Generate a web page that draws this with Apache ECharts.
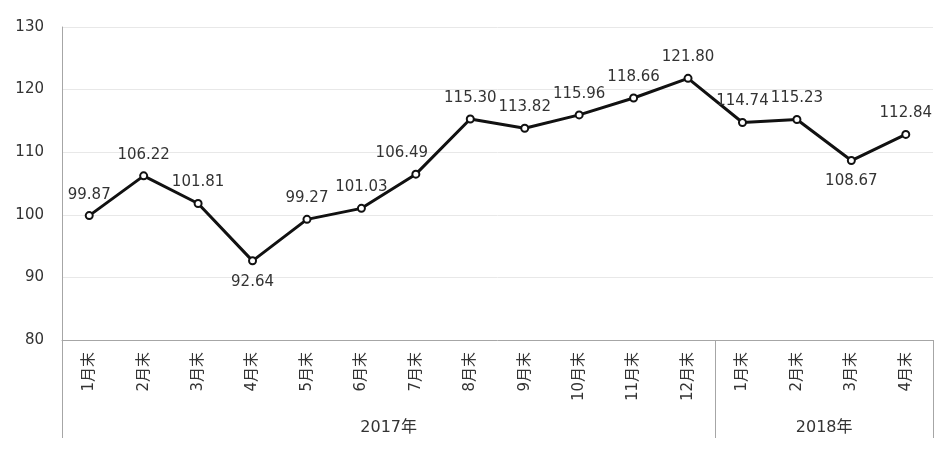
<!DOCTYPE html>
<html>
<head>
<meta charset="utf-8">
<script src="https://cdn.jsdelivr.net/npm/echarts@6/dist/echarts.min.js"></script>
<style>
  html, body { margin: 0; padding: 0; background: #fff; }
  #chart { width: 949px; height: 456px; }
</style>
</head>
<body>
<div id="chart"></div>
<script>
// 月份 / 年份 / 数值
var months = ['1月末', '2月末', '3月末', '4月末', '5月末', '6月末', '7月末', '8月末',
  '9月末', '10月末', '11月末', '12月末', '1月末', '2月末', '3月末', '4月末'];
var years = ['2017年', '2018年'];
var yearBounds = [0, 12, 16];
var yearCenters = [6, 14];
var values = [99.87, 106.22, 101.81, 92.64, 99.27, 101.03, 106.49, 115.30,
  113.82, 115.96, 118.66, 121.80, 114.74, 115.23, 108.67, 112.84];
var belowIdx = [3, 14];

var font = 'DejaVu Sans, Noto Sans CJK SC, sans-serif';
var chart = echarts.init(document.getElementById('chart'));

var seriesData = values.map(function (v, i) {
  var item = { value: v };
  if (belowIdx.indexOf(i) >= 0) {
    item.label = { position: 'bottom' };
  }
  if (i === 6) {
    item.label = { offset: [-14, 0] };
  }
  return item;
});

var option = {
  animation: false,
  grid: { left: 62, right: 16, top: 27, bottom: 116 },
  xAxis: [
    {
      type: 'category',
      data: months,
      boundaryGap: true,
      axisLine: { lineStyle: { color: '#a6a6a6', width: 1 } },
      axisTick: { show: false },
      axisLabel: {
        rotate: 90, margin: 12, color: '#333',
        fontSize: 15, fontFamily: font, interval: 0
      },
      splitLine: { show: false }
    },
    {
      type: 'value',
      min: 0, max: 16,
      position: 'bottom',
      axisLine: { show: false },
      axisTick: {
        show: true, customValues: yearBounds, length: 98,
        lineStyle: { color: '#a6a6a6', width: 1 }
      },
      axisLabel: {
        customValues: yearCenters, margin: 80, color: '#333',
        fontSize: 16, fontFamily: font,
        formatter: function (v) { return years[yearCenters.indexOf(v)]; }
      },
      splitLine: { show: false }
    }
  ],
  yAxis: {
    type: 'value',
    min: 80, max: 130, interval: 10,
    axisLine: { show: true, lineStyle: { color: '#a6a6a6', width: 1 } },
    axisTick: { show: false },
    axisLabel: { margin: 18, color: '#333', fontSize: 15, fontFamily: font },
    splitLine: { lineStyle: { color: '#e8e8e8', width: 1 } }
  },
  series: [{
    type: 'line',
    xAxisIndex: 0,
    data: seriesData,
    symbol: 'emptyCircle',
    symbolSize: 7,
    lineStyle: { color: '#111', width: 3 },
    itemStyle: { color: '#111', borderWidth: 1.5 },
    label: {
      show: true, position: 'top', distance: 9,
      color: '#333', fontSize: 15, fontFamily: font,
      formatter: function (p) { return p.value.toFixed(2); }
    }
  }]
};
chart.setOption(option);
</script>
</body>
</html>
